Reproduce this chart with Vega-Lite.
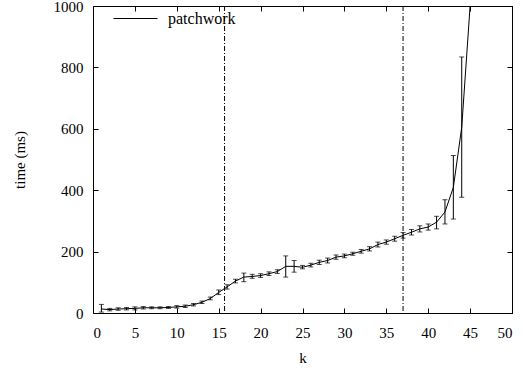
{
  "$schema": "https://vega.github.io/schema/vega-lite/v6.json",
  "width": 419,
  "height": 307,
  "autosize": {"type": "none"},
  "padding": {"left": 93, "top": 6, "right": 11, "bottom": 59},
  "background": "white",
  "config": {
    "font": "Liberation Serif",
    "view": {"stroke": "black", "strokeWidth": 1},
    "axis": {
      "grid": false,
      "domain": false,
      "tickColor": "black",
      "tickSize": 5,
      "offset": -5,
      "labelColor": "black",
      "labelFontSize": 15,
      "labelFont": "Liberation Serif",
      "titleFont": "Liberation Serif",
      "titleFontSize": 15,
      "titleFontWeight": "normal",
      "titleColor": "black"
    }
  },
  "datasets": {
    "main": [
      {"k": 1, "t": 13, "lo": 3, "hi": 28},
      {"k": 2, "t": 11, "lo": 7, "hi": 15},
      {"k": 3, "t": 13, "lo": 9, "hi": 17},
      {"k": 4, "t": 14, "lo": 10, "hi": 18},
      {"k": 5, "t": 15, "lo": 10, "hi": 20},
      {"k": 6, "t": 17, "lo": 13, "hi": 21},
      {"k": 7, "t": 17, "lo": 14, "hi": 20},
      {"k": 8, "t": 17, "lo": 14, "hi": 20},
      {"k": 9, "t": 18, "lo": 15, "hi": 21},
      {"k": 10, "t": 20, "lo": 16, "hi": 24},
      {"k": 11, "t": 22, "lo": 18, "hi": 26},
      {"k": 12, "t": 27, "lo": 23, "hi": 31},
      {"k": 13, "t": 35, "lo": 31, "hi": 39},
      {"k": 14, "t": 47, "lo": 43, "hi": 52},
      {"k": 15, "t": 67, "lo": 60, "hi": 75},
      {"k": 16, "t": 85, "lo": 78, "hi": 92},
      {"k": 17, "t": 104, "lo": 98, "hi": 110},
      {"k": 18, "t": 117, "lo": 102, "hi": 130},
      {"k": 19, "t": 119, "lo": 113, "hi": 126},
      {"k": 20, "t": 122, "lo": 116, "hi": 128},
      {"k": 21, "t": 128, "lo": 122, "hi": 134},
      {"k": 22, "t": 135, "lo": 129, "hi": 141},
      {"k": 23, "t": 152, "lo": 117, "hi": 186},
      {"k": 24, "t": 152, "lo": 133, "hi": 171},
      {"k": 25, "t": 149, "lo": 144, "hi": 155},
      {"k": 26, "t": 156, "lo": 150, "hi": 162},
      {"k": 27, "t": 165, "lo": 158, "hi": 172},
      {"k": 28, "t": 171, "lo": 163, "hi": 179},
      {"k": 29, "t": 182, "lo": 175, "hi": 189},
      {"k": 30, "t": 186, "lo": 180, "hi": 192},
      {"k": 31, "t": 193, "lo": 188, "hi": 198},
      {"k": 32, "t": 201, "lo": 195, "hi": 207},
      {"k": 33, "t": 209, "lo": 202, "hi": 216},
      {"k": 34, "t": 223, "lo": 215, "hi": 231},
      {"k": 35, "t": 231, "lo": 224, "hi": 238},
      {"k": 36, "t": 242, "lo": 234, "hi": 250},
      {"k": 37, "t": 253, "lo": 244, "hi": 262},
      {"k": 38, "t": 263, "lo": 254, "hi": 272},
      {"k": 39, "t": 274, "lo": 264, "hi": 284},
      {"k": 40, "t": 280, "lo": 270, "hi": 290},
      {"k": 41, "t": 296, "lo": 274, "hi": 315},
      {"k": 42, "t": 329, "lo": 290, "hi": 369},
      {"k": 43, "t": 409, "lo": 306, "hi": 513},
      {"k": 44, "t": 605, "lo": 377, "hi": 834},
      {"k": 45, "t": 1000, "lo": 1000, "hi": 1000}
    ],
    "vlines": [{"k": 15.7}, {"k": 37.0}]
  },
  "layer": [
    {
      "data": {"name": "vlines"},
      "mark": {"type": "rule", "color": "black", "strokeWidth": 1, "strokeDash": [5, 2, 1, 2]},
      "encoding": {
        "x": {"field": "k", "type": "quantitative", "scale": {"domain": [0, 50], "nice": false},
          "axis": {"orient": "top", "labels": false, "title": null, "values": [0,5,10,15,20,25,30,35,40,45,50]}}
      }
    },
    {
      "data": {"name": "main"},
      "mark": {"type": "rule", "color": "black", "strokeWidth": 1, "clip": true},
      "encoding": {
        "x": {"field": "k", "type": "quantitative", "scale": {"domain": [0, 50], "nice": false},
          "axis": {"orient": "bottom", "title": "k", "values": [0,5,10,15,20,25,30,35,40,45,50], "format": "d",
            "labelFont": "Liberation Serif", "labelPadding": 12, "titlePadding": 10}},
        "y": {"field": "lo", "type": "quantitative", "scale": {"domain": [0, 1000], "nice": false},
          "axis": {"orient": "left", "title": "time (ms)", "values": [0,200,400,600,800,1000], "format": "d",
            "labelFont": "Liberation Serif", "labelPadding": 10, "titlePadding": 26}},
        "y2": {"field": "hi"}
      }
    },
    {
      "data": {"name": "main"},
      "mark": {"type": "tick", "color": "black", "orient": "horizontal", "size": 5, "thickness": 1, "clip": true},
      "encoding": {
        "x": {"field": "k", "type": "quantitative", "axis": null},
        "y": {"field": "lo", "type": "quantitative",
          "axis": {"orient": "right", "labels": false, "title": null, "values": [0,200,400,600,800,1000]}}
      }
    },
    {
      "data": {"name": "main"},
      "mark": {"type": "tick", "color": "black", "orient": "horizontal", "size": 5, "thickness": 1, "clip": true},
      "encoding": {
        "x": {"field": "k", "type": "quantitative", "axis": null},
        "y": {"field": "hi", "type": "quantitative", "axis": null}
      }
    },
    {
      "data": {"name": "main"},
      "mark": {"type": "line", "strokeWidth": 1, "clip": true},
      "encoding": {
        "x": {"field": "k", "type": "quantitative", "axis": null},
        "y": {"field": "t", "type": "quantitative", "axis": null},
        "color": {"datum": "patchwork", "type": "nominal",
          "scale": {"domain": ["patchwork"], "range": ["black"]},
          "legend": {"title": null, "orient": "none", "legendX": 20, "legendY": -10, "padding": 0,
            "symbolType": "stroke", "symbolSize": 1936, "symbolStrokeWidth": 1, "symbolStrokeColor": "black",
            "labelFontSize": 16, "labelFont": "Liberation Serif", "labelColor": "black", "labelOffset": 10}}
      }
    }
  ],
  "resolve": {"axis": {"x": "independent", "y": "independent"}}
}
